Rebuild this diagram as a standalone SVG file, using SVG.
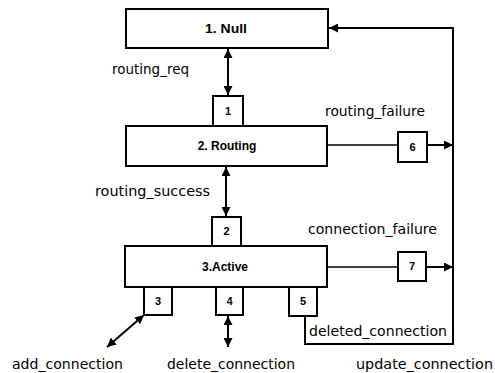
<svg xmlns="http://www.w3.org/2000/svg" width="495" height="373" viewBox="0 0 495 373">
<style>
.box{fill:#fff;stroke:#000;stroke-width:2}
.title{font-family:"Liberation Sans",Arial,sans-serif;font-weight:bold;font-size:12px;text-anchor:middle}
.num{font-family:"Liberation Sans",Arial,sans-serif;font-weight:bold;font-size:11px;text-anchor:middle}
.lbl{font-family:"DejaVu Sans","Liberation Sans",sans-serif;font-size:13.5px}
.c{fill:none;stroke:#000;stroke-width:2}
.thin{fill:none;stroke:#000;stroke-width:1.6}
</style>
<defs>
<marker id="ah" viewBox="0 0 10 10" refX="10" refY="5" markerWidth="9" markerHeight="9" markerUnits="userSpaceOnUse" orient="auto-start-reverse">
<path d="M0,0 L10,5 L0,10 z" fill="#000"/>
</marker>
</defs>
<g id="connectors">
<line class="c" x1="228" y1="49" x2="228" y2="95" marker-start="url(#ah)" marker-end="url(#ah)"/>
<line class="c" x1="226" y1="167" x2="226" y2="216" marker-start="url(#ah)" marker-end="url(#ah)"/>
<line class="thin" x1="327" y1="145" x2="398" y2="145"/>
<line class="c" x1="427" y1="145" x2="453" y2="145" marker-end="url(#ah)"/>
<line class="thin" x1="327" y1="267" x2="398" y2="267"/>
<line class="c" x1="426" y1="267" x2="453" y2="267" marker-end="url(#ah)"/>
<polyline class="c" points="305,316 305,344 453,344 453,28 329,28" marker-end="url(#ah)"/>
<line class="c" x1="144" y1="315" x2="107" y2="347" marker-start="url(#ah)" marker-end="url(#ah)"/>
<line class="c" x1="228" y1="316" x2="228" y2="347" marker-start="url(#ah)" marker-end="url(#ah)"/>
</g>
<g id="null">
<rect class="box" x="126" y="9" width="202" height="39"/>
<text class="title" x="226" y="33" textLength="42" lengthAdjust="spacingAndGlyphs">1. Null</text>
</g>
<g id="routing">
<rect class="box" x="126" y="126" width="201" height="40"/>
<text class="title" x="227" y="150">2. Routing</text>
</g>
<g id="active">
<rect class="box" x="125" y="246" width="202" height="41"/>
<text class="title" x="225" y="271">3.Active</text>
</g>
<g id="t1"><rect class="box" x="213" y="96" width="30" height="30"/><text class="num" x="228" y="115">1</text></g>
<g id="t2"><rect class="box" x="212" y="217" width="29" height="29"/><text class="num" x="226.5" y="235">2</text></g>
<g id="t6"><rect class="box" x="398" y="132" width="29" height="30"/><text class="num" x="412.5" y="151">6</text></g>
<g id="t7"><rect class="box" x="398" y="252" width="28" height="29"/><text class="num" x="412" y="270">7</text></g>
<g id="t3"><rect class="box" x="144" y="287" width="28" height="28"/><text class="num" x="158" y="305">3</text></g>
<g id="t4"><rect class="box" x="216" y="287" width="27" height="28"/><text class="num" x="229.5" y="305">4</text></g>
<g id="t5"><rect class="box" x="289" y="287" width="28" height="29"/><text class="num" x="303" y="305">5</text></g>
<g id="labels">
<text class="lbl" x="112" y="74" textLength="77" lengthAdjust="spacingAndGlyphs">routing_req</text>
<text class="lbl" x="325" y="116" textLength="100" lengthAdjust="spacingAndGlyphs">routing_failure</text>
<text class="lbl" x="95" y="196" textLength="115" lengthAdjust="spacingAndGlyphs">routing_success</text>
<text class="lbl" x="308" y="234" textLength="129" lengthAdjust="spacingAndGlyphs">connection_failure</text>
<text class="lbl" x="309" y="336" textLength="138" lengthAdjust="spacingAndGlyphs">deleted_connection</text>
<text class="lbl" x="12" y="369" textLength="111" lengthAdjust="spacingAndGlyphs">add_connection</text>
<text class="lbl" x="167" y="369" textLength="128" lengthAdjust="spacingAndGlyphs">delete_connection</text>
<text class="lbl" x="356" y="369" textLength="137" lengthAdjust="spacingAndGlyphs">update_connection</text>
</g>
</svg>
